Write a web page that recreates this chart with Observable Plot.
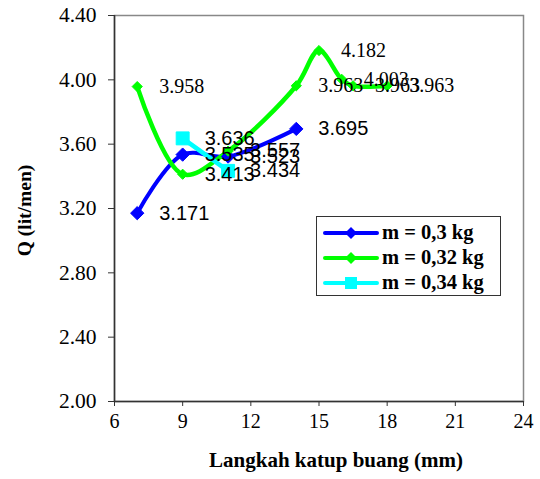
<!DOCTYPE html>
<html>
<head>
<meta charset="utf-8">
<script src="https://cdn.jsdelivr.net/npm/d3@7"></script>
<script src="https://cdn.jsdelivr.net/npm/@observablehq/plot@0.6"></script>
<style>
  html, body { margin: 0; padding: 0; background: #fff; }
  #wrap { position: relative; width: 540px; height: 479px; }
  #legend {
    position: absolute; left: 316px; top: 216px; width: 185px; height: 80px;
    border: 1px solid #333; background: #fff; box-sizing: border-box;
    font-family: "Liberation Serif", "Times New Roman", serif; font-weight: bold; font-size: 20.5px;
    padding-top: 3px;
  }
  #legend .row { display: flex; align-items: center; height: 25px; }
  #legend svg { margin-left: 6px; margin-right: 3px; }
</style>
</head>
<body>
<div id="wrap"><div id="legend"></div></div>
<script>
// Data
const seriesNames = ["m = 0,3 kg", "m = 0,32 kg", "m = 0,34 kg"];
const xA = [7, 9, 11, 14];
const yA = [3.171, 3.535, 3.523, 3.695];
const xB = [7, 9, 11, 14, 15, 16, 16.5, 18];
const yB = [3.958, 3.413, 3.557, 3.963, 4.182, 4.003, 3.963, 3.963];
const xC = [9, 11];
const yC = [3.636, 3.434];
const xTicks = [6, 9, 12, 15, 18, 21, 24];
const yTicks = [2.0, 2.4, 2.8, 3.2, 3.6, 4.0, 4.4];
const colors = ["#0000FF", "#00FF00", "#00FFFF"];

const A = xA.map((x, i) => ({x, y: yA[i]}));
const B = xB.map((x, i) => ({x, y: yB[i]}));
const C = xC.map((x, i) => ({x, y: yC[i]}));

const sans = "'Liberation Sans', Arial, sans-serif";
const serif = "'Liberation Serif', 'Times New Roman', serif";
const fmt = d3.format(".3f");

const chart = Plot.plot({
  width: 540,
  height: 479,
  marginLeft: 114,
  marginRight: 17,
  marginTop: 15,
  marginBottom: 78,
  style: {fontFamily: serif, fontSize: "20px", color: "#000", background: "#fff"},
  x: {domain: [6, 24]},
  y: {domain: [2, 4.4]},
  marks: [
    Plot.frame({stroke: "#888", strokeWidth: 1.5}),
    Plot.axisX({ticks: xTicks, tickSize: 5, tickPadding: 7, tickFormat: d3.format("d"),
      label: null, stroke: "#333", fontSize: 20, fontFamily: serif}),
    Plot.axisY({ticks: yTicks, tickSize: 6, tickPadding: 12, tickFormat: d3.format(".2f"),
      label: null, stroke: "#333", fontSize: 21.5, fontFamily: serif}),
    Plot.ruleX([6], {stroke: "#333", strokeWidth: 1.5}),
    Plot.ruleY([2], {stroke: "#333", strokeWidth: 1.5}),
    Plot.line(A, {x: "x", y: "y", stroke: colors[0], strokeWidth: 4, curve: "catmull-rom"}),
    Plot.line(B, {x: "x", y: "y", stroke: colors[1], strokeWidth: 4.5, curve: "catmull-rom"}),
    Plot.line(C, {x: "x", y: "y", stroke: colors[2], strokeWidth: 4.5}),
    Plot.dot(A, {x: "x", y: "y", symbol: "diamond2", r: 6, fill: colors[0], stroke: colors[0], strokeWidth: 1}),
    Plot.dot(B, {x: "x", y: "y", symbol: "diamond2", r: 4.6, fill: colors[1], stroke: colors[1], strokeWidth: 1}),
    Plot.dot(C, {x: "x", y: "y", symbol: "square", r: 7.3, fill: colors[2], stroke: colors[2], strokeWidth: 1}),
    Plot.text(B, {x: "x", y: "y", text: d => fmt(d.y), dx: 22, textAnchor: "start", fontSize: 20,
      fontFamily: serif, fill: "#000", filter: d => d.x > 12 || d.x < 8}),
    Plot.text(B, {x: "x", y: "y", text: d => fmt(d.y), dx: 22, textAnchor: "start", fontSize: 20,
      fontFamily: sans, fill: "#000", filter: d => d.x > 8 && d.x < 12}),
    Plot.text(A, {x: "x", y: "y", text: d => fmt(d.y), dx: 22, textAnchor: "start", fontSize: 20,
      fontFamily: sans, fill: "#000"}),
    Plot.text(C, {x: "x", y: "y", text: d => fmt(d.y), dx: 22, textAnchor: "start", fontSize: 20,
      fontFamily: sans, fill: "#000"}),
    Plot.text(["Langkah katup buang (mm)"], {frameAnchor: "bottom", dx: 17, dy: 65, text: d => d,
      textAnchor: "middle", fontWeight: "bold", fontSize: 21, fontFamily: serif, fill: "#000"}),
    Plot.text(["Q (lit/men)"], {frameAnchor: "left", dx: -90, dy: 2, rotate: -90, text: d => d,
      textAnchor: "middle", fontWeight: "bold", fontSize: 19.5, fontFamily: serif, fill: "#000"})
  ]
});
document.getElementById("wrap").prepend(chart);

// Legend
const legend = d3.select("#legend");
seriesNames.forEach((name, i) => {
  const row = legend.append("div").attr("class", "row");
  const s = row.append("svg").attr("width", 56).attr("height", 16);
  s.append("line").attr("x1", 2).attr("x2", 54).attr("y1", 8).attr("y2", 8)
    .attr("stroke", colors[i]).attr("stroke-width", 4).attr("stroke-linecap", "round");
  if (i < 2) {
    s.append("path").attr("d", "M28,2L34,8L28,14L22,8Z").attr("fill", colors[i]);
  } else {
    s.append("rect").attr("x", 22).attr("y", 2).attr("width", 12).attr("height", 12).attr("fill", colors[i]);
  }
  row.append("span").text(name);
});
</script>
</body>
</html>
